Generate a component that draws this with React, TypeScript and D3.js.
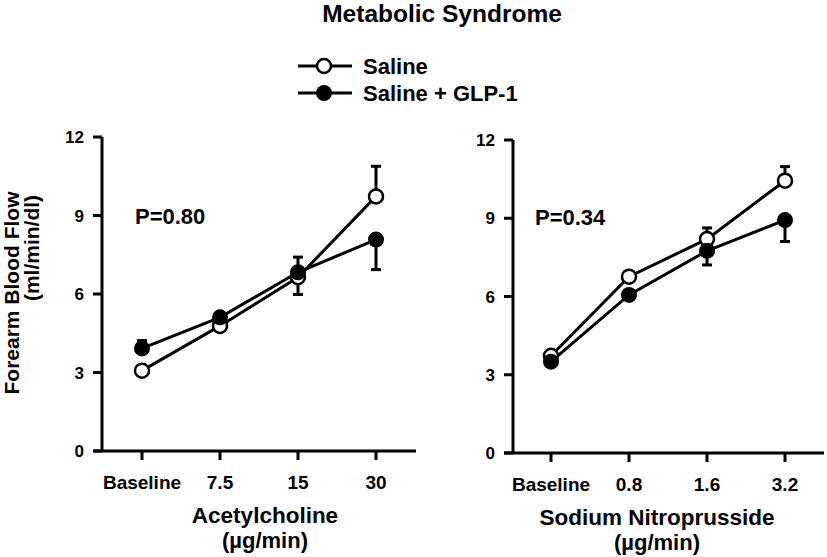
import React from "react";
import * as d3 from "d3";

const achCategories = ["Baseline", "7.5", "15", "30"];
const snpCategories = ["Baseline", "0.8", "1.6", "3.2"];
const yTicks = [0, 3, 6, 9, 12];

const achSaline = [3.07, 4.78, 6.64, 9.73];
const achSalineErr = [0.1, 0.12, 0.66, 1.15];
const achSalineDir = [-1, -1, -1, 1];
const achGlp = [3.92, 5.11, 6.83, 8.08];
const achGlpErr = [0.3, 0.12, 0.58, 1.15];
const achGlpDir = [1, 1, 1, -1];

const snpSaline = [3.73, 6.76, 8.2, 10.44];
const snpSalineErr = [0.15, 0.12, 0.43, 0.54];
const snpSalineDir = [1, 1, 1, 1];
const snpGlp = [3.5, 6.06, 7.75, 8.93];
const snpGlpErr = [0.12, 0.12, 0.54, 0.82];
const snpGlpDir = [-1, -1, -1, -1];

const FONT = "'Liberation Sans', Arial, Helvetica, sans-serif";

type Series = { vals: number[]; err: number[]; dir: number[]; filled: boolean };

function Panel({
  cats, series, axisX, xRange, yRange, xEnd, pText, pX, pY, title, titleX,
}: {
  cats: string[]; series: Series[]; axisX: number; xRange: [number, number];
  yRange: [number, number]; xEnd: number; pText: string; pX: number; pY: number;
  title: string; titleX: number;
}) {
  const x = d3.scalePoint<string>().domain(cats).range(xRange);
  const y = d3.scaleLinear().domain([0, 12]).range(yRange);
  const line = d3.line<number>().x((_, i) => x(cats[i])!).y((v) => y(v));
  const y0 = y(0);
  return (
    <g>
      {/* y axis */}
      <line x1={axisX} x2={axisX} y1={y(12)} y2={y0} stroke="#000" strokeWidth={3} />
      {yTicks.map((t) => (
        <g key={t}>
          <line x1={axisX - 9} x2={axisX} y1={y(t)} y2={y(t)} stroke="#000" strokeWidth={3} />
          <text x={axisX - 18} y={y(t)} dy="0.36em" textAnchor="end" fontSize={17} fontWeight="bold" fontFamily={FONT}>{t}</text>
        </g>
      ))}
      {/* x axis */}
      <line x1={axisX - 9} x2={xEnd} y1={y0} y2={y0} stroke="#000" strokeWidth={3} />
      {cats.map((c) => (
        <g key={c}>
          <line x1={x(c)!} x2={x(c)!} y1={y0} y2={y0 + 9} stroke="#000" strokeWidth={3} />
          <text x={x(c)!} y={y0 + 38} textAnchor="middle" fontSize={19} fontWeight="bold" fontFamily={FONT}>{c}</text>
        </g>
      ))}
      <text x={titleX} y={y0 + 72} textAnchor="middle" fontSize={22.5} fontWeight="bold" fontFamily={FONT}>{title}</text>
      <text x={titleX} y={y0 + 97} textAnchor="middle" fontSize={22} fontWeight="bold" fontFamily={FONT}>(µg/min)</text>
      <text x={pX} y={pY} fontSize={22} fontWeight="bold" fontFamily={FONT}>{pText}</text>
      {series.map((s, si) => (
        <path key={"l" + si} d={line(s.vals)!} fill="none" stroke="#000" strokeWidth={3} />
      ))}
      {series.map((s, si) =>
        s.vals.map((v, i) => {
          const cx = x(cats[i])!;
          const ye = y(v + s.dir[i] * s.err[i]);
          return (
            <g key={"e" + si + i}>
              <line x1={cx} x2={cx} y1={y(v)} y2={ye} stroke="#000" strokeWidth={3} />
              <line x1={cx - 5} x2={cx + 5} y1={ye} y2={ye} stroke="#000" strokeWidth={3} />
            </g>
          );
        })
      )}
      {series.map((s, si) =>
        s.vals.map((v, i) => (
          <circle key={"c" + si + i} cx={x(cats[i])!} cy={y(v)} r={s.filled ? 8 : 7}
            fill={s.filled ? "#000" : "#fff"} stroke="#000" strokeWidth={s.filled ? 0 : 2.5} />
        ))
      )}
    </g>
  );
}

export default function App() {
  return (
    <svg width={827} height={557} style={{ position: "absolute", left: 0, top: 0, background: "#fff" }}>
      <rect width={827} height={557} fill="#fff" />
      <text x={442} y={22} textAnchor="middle" fontSize={24.5} fontWeight="bold" fontFamily={FONT}>Metabolic Syndrome</text>
      {/* legend */}
      <line x1={298} x2={352} y1={66} y2={66} stroke="#000" strokeWidth={3} />
      <circle cx={324} cy={66} r={7} fill="#fff" stroke="#000" strokeWidth={2.5} />
      <text x={363} y={66} dy="0.36em" fontSize={22} fontWeight="bold" fontFamily={FONT}>Saline</text>
      <line x1={298} x2={352} y1={93} y2={93} stroke="#000" strokeWidth={3} />
      <circle cx={324} cy={93} r={8} fill="#000" />
      <text x={363} y={93} dy="0.36em" fontSize={22} fontWeight="bold" fontFamily={FONT}>Saline + GLP-1</text>
      {/* y label */}
      <text transform="translate(19,293) rotate(-90)" textAnchor="middle" fontSize={21} fontWeight="bold" fontFamily={FONT}>Forearm Blood Flow</text>
      <text transform="translate(39,248) rotate(-90)" textAnchor="middle" fontSize={21} fontWeight="bold" fontFamily={FONT}>(ml/min/dl)</text>
      <Panel cats={achCategories}
        series={[
          { vals: achSaline, err: achSalineErr, dir: achSalineDir, filled: false },
          { vals: achGlp, err: achGlpErr, dir: achGlpDir, filled: true },
        ]}
        axisX={102} xRange={[142, 376]} yRange={[451, 137]} xEnd={416}
        pText="P=0.80" pX={135} pY={224} title="Acetylcholine" titleX={265} />
      <Panel cats={snpCategories}
        series={[
          { vals: snpSaline, err: snpSalineErr, dir: snpSalineDir, filled: false },
          { vals: snpGlp, err: snpGlpErr, dir: snpGlpDir, filled: true },
        ]}
        axisX={513} xRange={[551, 785]} yRange={[453, 140]} xEnd={824}
        pText="P=0.34" pX={535} pY={225} title="Sodium Nitroprusside" titleX={657} />
    </svg>
  );
}
